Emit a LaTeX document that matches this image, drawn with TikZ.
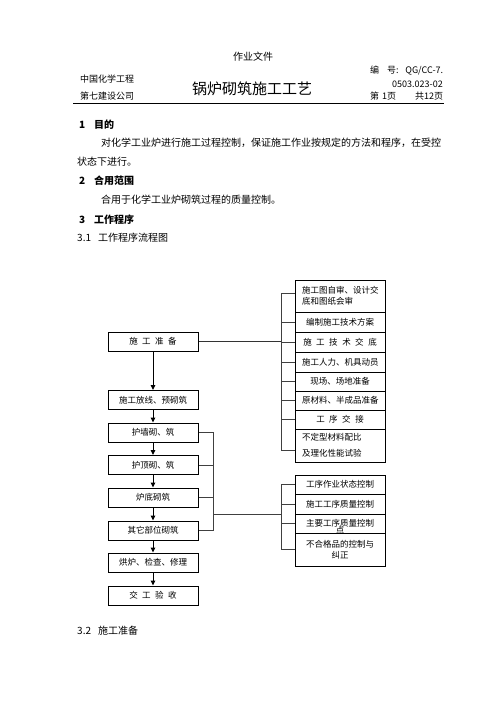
\documentclass[tikz,border=0pt]{standalone}
\usepackage{fontspec}
\setmainfont{Noto Sans CJK SC}
\usetikzlibrary{arrows.meta}
\newcommand\fsA{\fontsize{8.5pt}{11pt}\selectfont}
\newcommand\fsB{\fontsize{10pt}{12pt}\selectfont}
\newcommand\fsH{\fontsize{9pt}{11pt}\selectfont}
\newcommand\fsT{\fontsize{15pt}{18pt}\selectfont}
\newcommand\gapx{\hspace{4.5pt}}
\begin{document}
\begin{tikzpicture}[x=1pt,y=-1pt,
  txt/.style={inner sep=0pt, anchor=west},
  lbox/.style={draw, line width=1pt, minimum width=90pt, minimum height=19pt, inner sep=0pt, font=\fsA, fill=white},
  rbox/.style={draw, line width=0.8pt, text width=76pt, inner xsep=7pt, inner ysep=0pt, align=center, font=\fsA, fill=white},
  link/.style={draw, line width=0.6pt, black!75},
  flow/.style={draw, line width=1pt, -{Triangle[length=5pt,width=4.5pt]}}]
\useasboundingbox (0,0) rectangle (496,702);

% header
\node[inner sep=0pt, font=\fsB] (hd) at (253,57) {作业文件};
\node[txt, font=\fsH] (co1) at (80,79) {中国化学工程};
\node[txt, font=\fsH] (co2) at (80,96) {第七建设公司};
\node[inner sep=0pt, font=\fsT] (ttl) at (252,89) {锅炉砌筑施工工艺};
\node[txt, font=\fsH, text width=73pt] (no1) at (370,71) {编\hspace{8pt}号:\hfill QG/CC-7.};
\node[inner sep=0pt, anchor=east, font=\fsH] (no2) at (443,84) {0503.023-02};
\node[txt, font=\fsH, text width=73pt] (pg) at (370,96) {第\hspace{3pt}1页\hfill 共12页};
\coordinate (rl) at (73,103);
\coordinate (rr) at (444,103);
\draw[line width=1pt] (rl) -- (rr);

% body
\node[txt, font=\fsB\bfseries] (s1) at (79,125) {\makebox[15pt][l]{1}目的};
\node[txt, font=\fsB] (p1a) at (101,143) {对化学工业炉进行施工过程控制，保证施工作业按规定的方法和程序，在受控};
\node[txt, font=\fsB] (p1b) at (77,162) {状态下进行。};
\node[txt, font=\fsB\bfseries] (s2) at (79,181) {\makebox[15pt][l]{2}合用范围};
\node[txt, font=\fsB] (p2) at (101,200) {合用于化学工业炉砌筑过程的质量控制。};
\node[txt, font=\fsB\bfseries] (s3) at (79,220) {\makebox[15pt][l]{3}工作程序};
\node[txt, font=\fsB] (s31) at (77,238) {\makebox[21pt][l]{3.1}工作程序流程图};
\node[txt, font=\fsB] (s32) at (77,631) {\makebox[21pt][l]{3.2}施工准备};

% left column
\node[lbox] (a1) at (153,341.5) {施\gapx 工\gapx 准\gapx 备};
\node[lbox] (a2) at (153,400) {施工放线、预砌筑};
\node[lbox] (a3) at (153,432.5) {护墙砌、筑};
\node[lbox] (a4) at (153,465) {护顶砌、筑};
\node[lbox] (a5) at (153,497.5) {炉底砌筑};
\node[lbox] (a6) at (153,530.5) {其它部位砌筑};
\node[lbox] (a7) at (153,562.5) {烘炉、检查、修理};
\node[lbox] (a8) at (153,595.5) {交\gapx 工\gapx 验\gapx 收};
\foreach \u/\v in {a1/a2,a2/a3,a3/a4,a4/a5,a5/a6,a6/a7,a7/a8}
  \draw[flow] (\u.south) -- (\v.north);

% right group 1
\node[rbox, align=left, minimum height=32pt] (b1) at (340,296) {施工图自审、设计交\\底和图纸会审};
\node[rbox, minimum height=20pt] (b2) at (340,322) {编制施工技术方案};
\node[rbox, minimum height=20pt] (b3) at (340,342) {施\gapx 工\gapx 技\gapx 术\gapx 交\gapx 底};
\node[rbox, minimum height=20pt] (b4) at (340,362) {施工人力、机具动员};
\node[rbox, minimum height=19pt] (b5) at (340,381.5) {现场、场地准备};
\node[rbox, minimum height=19pt] (b6) at (340,400.5) {原材料、半成品准备};
\node[rbox, minimum height=19pt] (b7) at (340,419.5) {工\gapx 序\gapx 交\gapx 接};
\node[rbox, align=left, minimum height=33pt, font=\fontsize{8.5pt}{16pt}\selectfont] (b8) at (340,445.5) {不定型材料配比\\及理化性能试验};

\coordinate (k1) at (281,293);
\coordinate (k8) at (281,450);
\draw[link] (k1) -- (k8);
\draw[link] (k1) -- (k1 -| b1.west);
\foreach \n in {b2,b3,b4,b5,b6,b7}
  \draw[link] (\n.west -| k1) -- (\n.west);
\draw[link] (k8) -- (k8 -| b8.west);
\draw[line width=1.6pt, black!80] (a1.east) -- (a1.east -| k1);

% lower-left bracket
\coordinate (j1) at (213,432.5);
\coordinate (j2) at (213,530.5);
\coordinate (j3) at (213,514);
\draw[link] (a3.east) -- (j1) -- (j2) -- (a6.east);
\draw[link] (a4.east) -- (a4.east -| j1);
\draw[link] (a5.east) -- (a5.east -| j1);

% right group 2
\node[rbox, minimum height=19pt, label={[inner sep=0pt, font=\fsA, yshift=7pt]below:点}] (c1x) at (340,523.5) {主要工序质量控制};
\node[rbox, minimum height=19pt] (c1) at (340,484.5) {工序作业状态控制};
\node[rbox, minimum height=20pt] (c2) at (340,504) {施工工序质量控制};
\node[rbox, minimum height=33pt, fill=none] (c4) at (340,549.5) {不合格品的控制与\\纠正};

\coordinate (m1) at (281,484.5);
\coordinate (m4) at (281,549.5);
\coordinate (m0) at (281,514);
\draw[link] (m1) -- (m4);
\draw[link] (j3) -- (m0);
\foreach \n in {c1,c2,c1x,c4}
  \draw[link] (\n.west -| m1) -- (\n.west);
\end{tikzpicture}
\end{document}
